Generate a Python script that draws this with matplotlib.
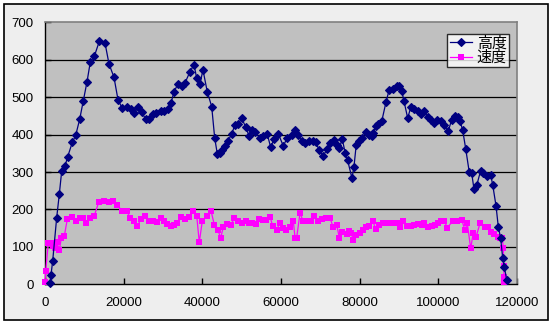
import matplotlib
matplotlib.use("Agg")
import matplotlib.pyplot as plt
from matplotlib.patches import Rectangle

# ---- data ----
alt_x = [1270, 1530, 1950, 2970, 3640, 4250, 5080, 5770, 6940, 7800,
         8820, 9740, 10680, 11520, 12530, 13800, 15250, 16270, 17540, 18560,
         19650, 20900, 21860, 22700, 23720, 24580, 25600, 26440, 27380, 28220,
         29410, 30250, 31190, 32030, 32790, 33730, 34750, 35590, 36780, 37880,
         38560, 39400, 40160, 41260, 42380, 43140, 43800, 44490, 45070, 45760,
         46600, 47460, 48300, 49140, 50000, 51020, 51860, 52700, 53380, 54650,
         55500, 56510, 57380, 58210, 59310, 60580, 61590, 62860, 63550, 64400,
         65250, 66090, 67110, 68200, 68890, 69650, 70670, 71760, 72450, 73460,
         74150, 74810, 75570, 76330, 76940, 78040, 78540, 79130, 79890, 80660,
         81520, 82360, 83050, 83450, 84060, 84730, 85600, 86700, 87460, 88400,
         89420, 90000, 90690, 91270, 92210, 93050, 93890, 94760, 95600, 96430,
         97300, 98060, 98900, 99740, 100680, 101520, 102540, 103400, 104240, 104930,
         105510, 106200, 106960, 107870, 108480, 109070, 109750, 110770, 111430, 112300,
         113310, 113820, 114660, 115240, 115850, 116360, 116770, 117380]
alt_y = [3, 25, 62, 178, 241, 303, 316, 341, 379, 398,
         441, 491, 541, 594, 609, 649, 645, 589, 553, 493,
         470, 473, 469, 458, 473, 460, 441, 442, 456, 458,
         464, 464, 468, 484, 514, 534, 531, 538, 566, 587,
         551, 535, 573, 514, 475, 391, 349, 350, 358, 370,
         384, 402, 426, 428, 444, 420, 397, 413, 406, 391,
         395, 401, 366, 388, 402, 370, 391, 400, 413, 400,
         382, 377, 382, 384, 380, 359, 343, 361, 377, 386,
         371, 364, 388, 351, 331, 284, 313, 373, 382, 392,
         406, 400, 395, 404, 422, 429, 435, 487, 518, 523,
         531, 529, 517, 489, 444, 475, 468, 462, 455, 462,
         448, 440, 432, 440, 435, 426, 410, 440, 450, 448,
         437, 411, 362, 299, 297, 254, 264, 304, 297, 290,
         292, 266, 210, 154, 123, 70, 47, 12]

spd_x = [0, 180, 840, 1450, 1960, 2540, 2970, 3640, 4150, 4910,
         5670, 6940, 7800, 8900, 9740, 10500, 11520, 12510, 13650, 14920,
         16190, 17360, 18380, 19580, 20850, 21610, 22630, 23470, 24410, 25420,
         26440, 27530, 28400, 29420, 30250, 31090, 32030, 32800, 33640, 34580,
         35590, 36690, 37700, 38570, 39230, 39990, 41110, 42200, 43040, 43910,
         44670, 45330, 46350, 47290, 48130, 49150, 50010, 51030, 51940, 52700,
         53640, 54480, 55500, 56190, 57200, 57890, 58910, 59750, 60430, 61270,
         62290, 63130, 63560, 63990, 64830, 65670, 66690, 67550, 68470, 69480,
         70350, 71440, 72460, 73300, 74160, 74820, 75430, 76700, 77290, 77800,
         78380, 79070, 80080, 80770, 81610, 82450, 83320, 84080, 84920, 85860,
         86880, 87890, 88550, 89420, 90250, 91090, 91960, 93050, 93890, 94910,
         95770, 96430, 97300, 98320, 99150, 99990, 100680, 101520, 102280, 103650,
         104670, 105940, 106780, 107360, 108230, 108890, 109580, 110590, 111860, 112550,
         113390, 114150, 115090, 115680, 116260, 116520, 116620, 116700, 116780]
spd_y = [5, 36, 110, 110, 101, 96, 114, 92, 123, 129,
         174, 179, 168, 177, 177, 165, 177, 183, 219, 223,
         219, 223, 212, 196, 196, 177, 168, 156, 174, 183,
         169, 169, 166, 177, 168, 161, 156, 159, 163, 179,
         174, 179, 196, 183, 112, 169, 183, 197, 159, 145,
         125, 152, 161, 159, 177, 168, 163, 168, 163, 163,
         161, 175, 172, 172, 181, 156, 145, 165, 150, 145,
         154, 169, 125, 125, 190, 168, 169, 169, 183, 168,
         174, 177, 177, 152, 159, 125, 141, 135, 143, 138,
         119, 132, 138, 145, 152, 156, 170, 147, 159, 163,
         163, 163, 163, 165, 154, 168, 156, 157, 159, 161,
         159, 163, 154, 156, 159, 163, 169, 169, 151, 169,
         168, 172, 145, 163, 96, 138, 126, 163, 154, 154,
         141, 135, 127, 123, 123, 96, 50, 20, 5]

x_ticks = [0, 20000, 40000, 60000, 80000, 100000, 120000]
y_ticks = [0, 100, 200, 300, 400, 500, 600, 700]
labels = ["高度", "速度"]

# ---- figure ----
W, H = 553, 324
fig = plt.figure(figsize=(W / 100, H / 100), dpi=100, facecolor="white")
fig.patches.append(Rectangle((4 / W, 1 - 320 / H), 544 / W, 316 / H,
                             transform=fig.transFigure, facecolor="#EEEEEE",
                             edgecolor="black", linewidth=1.2, zorder=-5))

ax = fig.add_axes([45 / W, 1 - 284.3 / H, 472 / W, 262 / H])
ax.set_zorder(2)
ax.set_facecolor("#C0C0C0")
ax.set_xlim(0, 120000)
ax.set_ylim(0, 700)
ax.set_xticks(x_ticks)
ax.set_yticks(y_ticks)
ax.set_xticklabels([str(v) for v in x_ticks])
ax.set_yticklabels([str(v) for v in y_ticks])
for y in y_ticks[1:-1]:
    ax.axhline(y, color="black", linewidth=0.9, zorder=1)

ax.plot(alt_x, alt_y, color="#000080", linewidth=0.9, marker="D",
        markersize=4.2, markeredgewidth=0.8, label=labels[0], zorder=4,
        clip_on=False)
ax.plot(spd_x, spd_y, color="#FF00FF", linewidth=0.9, marker="s",
        markersize=4.4, markeredgewidth=0, label=labels[1], zorder=3,
        clip_on=False)

for s in ["top", "right"]:
    ax.spines[s].set_color("#808080")
    ax.spines[s].set_linewidth(1.2)
for s in ["left", "bottom"]:
    ax.spines[s].set_color("black")
    ax.spines[s].set_linewidth(1.0)

ax.tick_params(axis="both", direction="in", length=4, width=1, colors="black",
               labelsize=9.5)
ax.tick_params(axis="x", pad=9)
ax.tick_params(axis="y", pad=8)
for t in ax.get_xticklabels() + ax.get_yticklabels():
    t.set_fontfamily("Liberation Sans")

leg = ax.legend(loc="upper right", bbox_to_anchor=(0.983, 0.955),
                borderaxespad=0, frameon=True, fancybox=False,
                prop={"family": ["Noto Sans CJK JP", "DejaVu Sans"], "size": 10.8},
                handlelength=1.5, handletextpad=0.3, borderpad=0.15,
                labelspacing=0.0)
leg.get_frame().set_edgecolor("black")
leg.get_frame().set_facecolor("white")
leg.get_frame().set_linewidth(1.0)

fig.savefig("out.png", dpi=100, facecolor="white")
